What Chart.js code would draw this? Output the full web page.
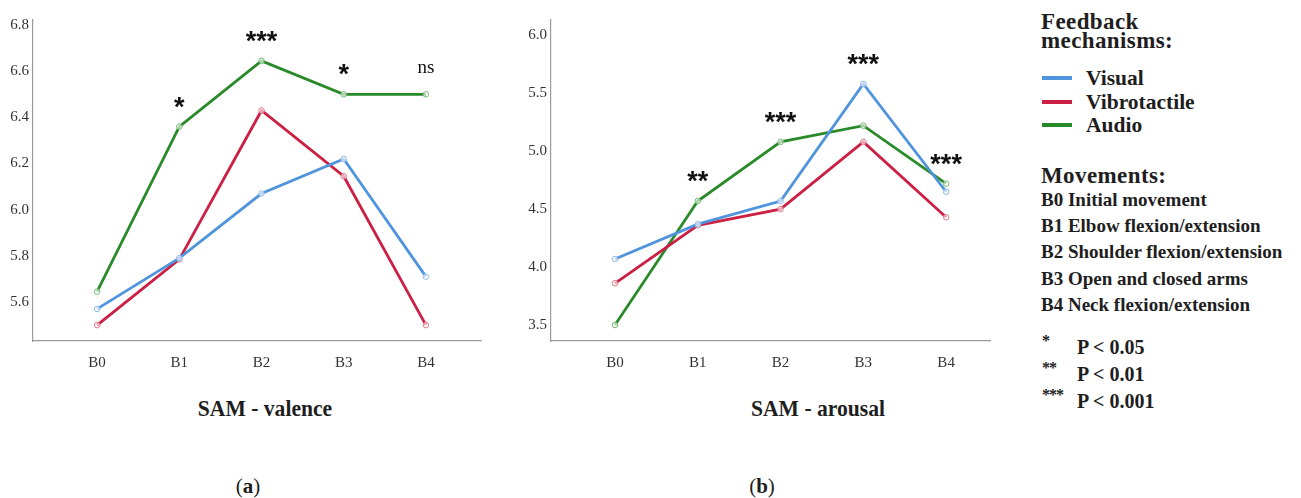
<!DOCTYPE html>
<html>
<head>
<meta charset="utf-8">
<script src="https://cdn.jsdelivr.net/npm/chart.js@4.4.1/dist/chart.umd.min.js"></script>
<style>
body{margin:0;background:#fff;width:1301px;height:498px;overflow:hidden;position:relative;font-family:"Liberation Serif",serif;color:#1e1e1e}
#wrapA{position:absolute;left:0;top:0;width:490px;height:380px}
#wrapB{position:absolute;left:490px;top:0;width:510px;height:380px}
.title{position:absolute;font-weight:bold;font-size:24px;white-space:nowrap;transform:translate(-50%,-50%) scaleX(0.9)}
.sub{position:absolute;font-size:21px;white-space:nowrap;transform:translate(-50%,-50%)}
.lg{position:absolute;left:1041px;white-space:nowrap;transform:translateY(-50%)}
.h{font-weight:bold;font-size:23px;line-height:19px;letter-spacing:0.4px}
.item{left:1086px;font-weight:bold;font-size:21.5px}
.sw{position:absolute;left:1042px;width:30px;height:4px;transform:translateY(-50%)}
.mv{font-weight:bold;font-size:19px}
.pv{font-size:20px;font-weight:bold}
.pv sup{font-size:16px;position:absolute;left:1px;top:-4px;letter-spacing:-1px}
.pv span{position:absolute;left:36px}
</style>
</head>
<body>
<div id="wrapA"><canvas id="chartA"></canvas></div>
<div id="wrapB"><canvas id="chartB"></canvas></div>

<div class="title" style="left:265px;top:408px">SAM - valence</div>
<div class="title" style="left:818px;top:408px">SAM - arousal</div>
<div class="sub" style="left:248px;top:486px">(<b>a</b>)</div>
<div class="sub" style="left:762px;top:486px">(<b>b</b>)</div>

<div class="lg h" style="top:31px">Feedback<br>mechanisms:</div>
<div class="sw" style="top:78px;background:#4f94dc"></div>
<div class="lg item" style="top:78px">Visual</div>
<div class="sw" style="top:102px;background:#cc1f44"></div>
<div class="lg item" style="top:102px">Vibrotactile</div>
<div class="sw" style="top:125px;background:#2a8a2a"></div>
<div class="lg item" style="top:125px">Audio</div>
<div class="lg h" style="top:175px">Movements:</div>
<div id="moves"></div>
<div class="lg pv" style="top:347px"><sup>*</sup><span>P &lt; 0.05</span>&nbsp;</div>
<div class="lg pv" style="top:374px"><sup>**</sup><span>P &lt; 0.01</span>&nbsp;</div>
<div class="lg pv" style="top:401px"><sup>***</sup><span>P &lt; 0.001</span>&nbsp;</div>

<script>
const categories = ['B0', 'B1', 'B2', 'B3', 'B4'];
const movementNames = ['Initial movement', 'Elbow flexion/extension', 'Shoulder flexion/extension', 'Open and closed arms', 'Neck flexion/extension'];

const valenceVisual = [5.57, 5.79, 6.07, 6.22, 5.71];
const valenceVibro = [5.50, 5.785, 6.43, 6.145, 5.50];
const valenceAudio = [5.645, 6.36, 6.645, 6.50, 6.50];
const valenceTicks = [5.6, 5.8, 6.0, 6.2, 6.4, 6.6, 6.8];
const valenceSig = ['', '*', '***', '*', 'ns'];

const arousalVisual = [4.07, 4.37, 4.57, 5.58, 4.65];
const arousalVibro = [3.86, 4.36, 4.50, 5.08, 4.43];
const arousalAudio = [3.50, 4.57, 5.08, 5.22, 4.72];
const arousalTicks = [3.5, 4.0, 4.5, 5.0, 5.5, 6.0];
const arousalSig = ['', '**', '***', '***', '***'];

// movements list in the legend
let movesHtml = '';
categories.forEach((c, i) => {
    movesHtml += `<div class="lg mv" style="top:${200 + i * 26.2}px">${c} ${movementNames[i]}</div>`;
});
document.getElementById('moves').innerHTML = movesHtml;

const serie = (label, values, color, light) => ({
    label,
    data: values.map((v, i) => ({x: i, y: v})),
    borderColor: color,
    borderWidth: 2.8,
    pointRadius: 2.8,
    pointBorderWidth: 1,
    pointBorderColor: light,
    pointBackgroundColor: 'rgba(255,255,255,0.6)',
    tension: 0
});

// stars / ns above the highest point of each category
const sigPlugin = (labels) => ({
    id: 'sig',
    afterDatasetsDraw(chart) {
        const ctx = chart.ctx;
        const xs = chart.scales.x, ys = chart.scales.y;
        ctx.save();
        ctx.fillStyle = '#111';
        ctx.textAlign = 'center';
        labels.forEach((txt, i) => {
            if (!txt) return;
            const top = Math.max(...chart.data.datasets.map(d => d.data[i].y));
            const px = xs.getPixelForValue(i);
            const py = ys.getPixelForValue(top) - 26;
            if (txt === 'ns') {
                ctx.font = '19px "Liberation Serif"';
                ctx.textBaseline = 'middle';
                ctx.fillText(txt, px, py);
            } else {
                ctx.font = 'bold 27px "Liberation Sans"';
                ctx.textBaseline = 'alphabetic';
                ctx.fillText(txt, px, py + 15);
            }
        });
        ctx.restore();
    }
});

function crearGrafico(id, visual, vibro, audio, ticks, sig, yMin, yMax, xMin, xMax, axisW, padRight) {
    const ctx = document.getElementById(id).getContext('2d');
    return new Chart(ctx, {
        type: 'line',
        data: {
            datasets: [
                serie('Visual', visual, '#4f94dc', '#8fbbe9'),
                serie('Vibrotactile', vibro, '#cc1f44', '#e07a8e'),
                serie('Audio', audio, '#2a8a2a', '#74b874')
            ]
        },
        options: {
            responsive: true,
            maintainAspectRatio: false,
            animation: false,
            layout: {padding: {top: 20, right: padRight, left: 0, bottom: 0}},
            plugins: {legend: {display: false}, tooltip: {enabled: false}},
            scales: {
                x: {
                    type: 'linear',
                    min: xMin,
                    max: xMax,
                    grid: {display: false, drawTicks: false},
                    border: {display: true, color: '#9a9a9a', width: 1.2},
                    afterBuildTicks: (axis) => { axis.ticks = categories.map((c, i) => ({value: i})); },
                    afterFit: (axis) => { axis.height = 39; },
                    ticks: {
                        callback: (v) => categories[v],
                        color: '#333',
                        font: {family: 'Liberation Serif', size: 15},
                        padding: 13,
                        maxRotation: 0
                    }
                },
                y: {
                    min: yMin,
                    max: yMax,
                    grid: {display: false, drawTicks: false},
                    border: {display: true, color: '#9a9a9a', width: 1.2},
                    afterBuildTicks: (axis) => { axis.ticks = ticks.map(v => ({value: v})); },
                    afterFit: (axis) => { axis.width = axisW; },
                    ticks: {
                        callback: (v) => v.toFixed(1),
                        color: '#333',
                        font: {family: 'Liberation Serif', size: 15},
                        padding: 4
                    }
                }
            }
        },
        plugins: [sigPlugin(sig)]
    });
}

crearGrafico('chartA', valenceVisual, valenceVibro, valenceAudio, valenceTicks, valenceSig,
    5.431, 6.822, -0.78, 4.67, 33, 9);
crearGrafico('chartB', arousalVisual, arousalVibro, arousalAudio, arousalTicks, arousalSig,
    3.362, 6.132, -0.773, 4.53, 61, 10);
</script>
</body>
</html>
